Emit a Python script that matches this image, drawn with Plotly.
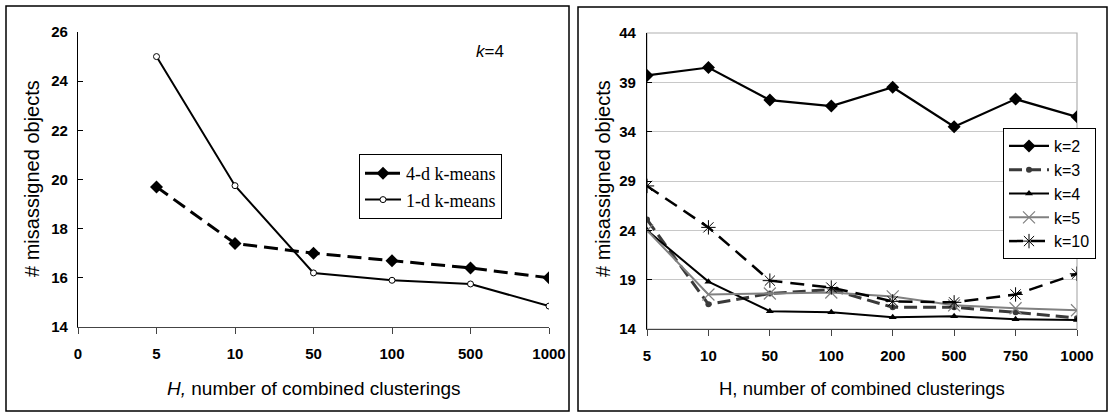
import plotly.graph_objects as go

W, H = 1111, 414

# ---------------- data ----------------
left_cats = ['0', '5', '10', '50', '100', '500', '1000']
left_h = ['5', '10', '50', '100', '500', '1000']
km4d = [19.7, 17.4, 17.0, 16.7, 16.4, 16.0]
km1d = [25.0, 19.75, 16.2, 15.9, 15.75, 14.85]

right_cats = ['5', '10', '50', '100', '200', '500', '750', '1000']
k2 = [39.7, 40.5, 37.2, 36.6, 38.5, 34.5, 37.3, 35.5]
k3 = [25.1, 16.5, 17.6, 18.0, 16.2, 16.2, 15.7, 15.1]
k4 = [24.0, 18.8, 15.8, 15.7, 15.2, 15.3, 15.0, 14.9]
k5 = [24.0, 17.5, 17.6, 17.7, 17.3, 16.4, 16.1, 15.9]
k10 = [28.5, 24.3, 18.9, 18.2, 16.8, 16.7, 17.5, 19.6]

left_yticks = [14, 16, 18, 20, 22, 24, 26]
right_yticks = [14, 19, 24, 29, 34, 39, 44]

SANS = "Liberation Sans, Arial, sans-serif"
SERIF = "Liberation Serif, Times New Roman, serif"

def px_x(p):
    return p / W

def px_y(p):
    return 1 - p / H

fig = go.Figure()

# ---------------- left chart ----------------
fig.add_trace(go.Scatter(
    x=left_h, y=km4d, name='4-d k-means', xaxis='x', yaxis='y', legend='legend',
    mode='lines+markers',
    line=dict(color='black', width=3, dash='14px,7px'),
    marker=dict(symbol='diamond', size=10, color='black'),
))
fig.add_trace(go.Scatter(
    x=left_h, y=km1d, name='1-d k-means', xaxis='x', yaxis='y', legend='legend',
    mode='lines+markers',
    line=dict(color='black', width=2),
    marker=dict(symbol='circle', size=6, color='white', line=dict(color='black', width=1)),
))

# ---------------- right chart ----------------
fig.add_trace(go.Scatter(
    x=right_cats, y=k2, name='k=2', xaxis='x2', yaxis='y2', legend='legend2',
    mode='lines+markers',
    line=dict(color='black', width=2.2),
    marker=dict(symbol='diamond', size=10, color='black'),
))
fig.add_trace(go.Scatter(
    x=right_cats, y=k3, name='k=3', xaxis='x2', yaxis='y2', legend='legend2',
    mode='lines+markers',
    line=dict(color='#3a3a3a', width=3, dash='13px,6px'),
    marker=dict(symbol='circle', size=6, color='#3a3a3a'),
))
fig.add_trace(go.Scatter(
    x=right_cats, y=k4, name='k=4', xaxis='x2', yaxis='y2', legend='legend2',
    mode='lines+markers',
    line=dict(color='black', width=2),
    marker=dict(symbol='triangle-up', size=7, color='black'),
))
fig.add_trace(go.Scatter(
    x=right_cats, y=k5, name='k=5', xaxis='x2', yaxis='y2', legend='legend2',
    mode='lines+markers',
    line=dict(color='#808080', width=2),
    marker=dict(symbol='x-thin-open', size=12, color='#808080', line=dict(color='#808080', width=1.2)),
))
fig.add_trace(go.Scatter(
    x=right_cats, y=k10, name='k=10', xaxis='x2', yaxis='y2', legend='legend2',
    mode='lines+markers',
    line=dict(color='black', width=2.5, dash='14px,8px'),
    marker=dict(symbol='asterisk-open', size=12, color='black', line=dict(color='black', width=1)),
))

tickfont = dict(family=SANS, size=15, color='black', weight='bold')

def ann(text, x, y, size, angle=0):
    return dict(text=text, x=px_x(x), y=px_y(y), xref='paper', yref='paper',
                xanchor='center', yanchor='middle', textangle=angle, showarrow=False,
                font=dict(family=SANS, size=size, color='black'))

fig.update_layout(
    width=W, height=H,
    margin=dict(l=0, r=0, t=0, b=0, pad=0, autoexpand=False),
    paper_bgcolor='white', plot_bgcolor='white',
    showlegend=True,
    xaxis=dict(
        domain=[px_x(78), px_x(549)], anchor='y', automargin=False,
        type='category', categoryorder='array', categoryarray=left_cats,
        range=[0, 6], showgrid=False, zeroline=False,
        showline=True, linecolor='#444', linewidth=1.2,
        ticks='outside', ticklen=6, tickcolor='#444', tickwidth=1,
        tickfont=tickfont, ticklabelstandoff=7,
    ),
    yaxis=dict(
        domain=[px_y(327), px_y(32)], anchor='x', automargin=False,
        range=[14, 26], tickvals=left_yticks, showgrid=False, zeroline=False,
        showline=True, linecolor='black', linewidth=1.2,
        ticks='inside', ticklen=5, tickcolor='black', tickwidth=1,
        tickfont=tickfont, ticklabelstandoff=6,
    ),
    xaxis2=dict(
        domain=[px_x(647), px_x(1077)], anchor='y2', automargin=False,
        type='category', categoryorder='array', categoryarray=right_cats,
        range=[0, 7], showgrid=False, zeroline=False,
        showline=True, linecolor='#444', linewidth=1.2,
        ticks='outside', ticklen=6, tickcolor='#444', tickwidth=1,
        tickfont=tickfont, ticklabelstandoff=7,
    ),
    yaxis2=dict(
        domain=[px_y(329), px_y(33)], anchor='x2', automargin=False,
        range=[14, 44], tickvals=right_yticks, showgrid=True, gridcolor='#c8c8c8', gridwidth=1,
        zeroline=False,
        showline=True, linecolor='black', linewidth=1.2,
        ticks='inside', ticklen=5, tickcolor='black', tickwidth=1,
        tickfont=tickfont, ticklabelstandoff=7,
    ),
    legend=dict(
        x=px_x(359), y=px_y(154), xanchor='left', yanchor='top',
        bgcolor='white', bordercolor='black', borderwidth=1,
        font=dict(family=SERIF, size=18, color='black'),
        tracegroupgap=0, itemwidth=36,
    ),
    legend2=dict(
        x=px_x(1003), y=px_y(128), xanchor='left', yanchor='top',
        bgcolor='white', bordercolor='black', borderwidth=1,
        font=dict(family=SANS, size=16, color='black'),
        tracegroupgap=0, itemwidth=40,
    ),
    shapes=[
        # panel borders
        dict(type='rect', xref='paper', yref='paper', x0=px_x(6), x1=px_x(569), y0=px_y(411), y1=px_y(6),
             line=dict(color='black', width=1.5), layer='below'),
        dict(type='rect', xref='paper', yref='paper', x0=px_x(578), x1=px_x(1107), y0=px_y(411), y1=px_y(7),
             line=dict(color='black', width=1.5), layer='below'),
        # right plot area frame (top & right in gray)
        dict(type='rect', xref='x2 domain', yref='y2 domain', x0=0, x1=1, y0=0, y1=1,
             line=dict(color='#b0b0b0', width=1.2), layer='below'),
    ],
    annotations=[
        ann('<i>k</i>=4', 490, 51, 17),
        ann('# misassigned objects', 32, 179, 20, -90),
        ann('<i>H,</i> number of combined clusterings', 314, 388, 19),
        ann('# misassigned objects', 603, 179, 20, -90),
        ann('H, number of combined clusterings', 862, 388, 18.5),
    ],
)

fig.write_html("out.html")
